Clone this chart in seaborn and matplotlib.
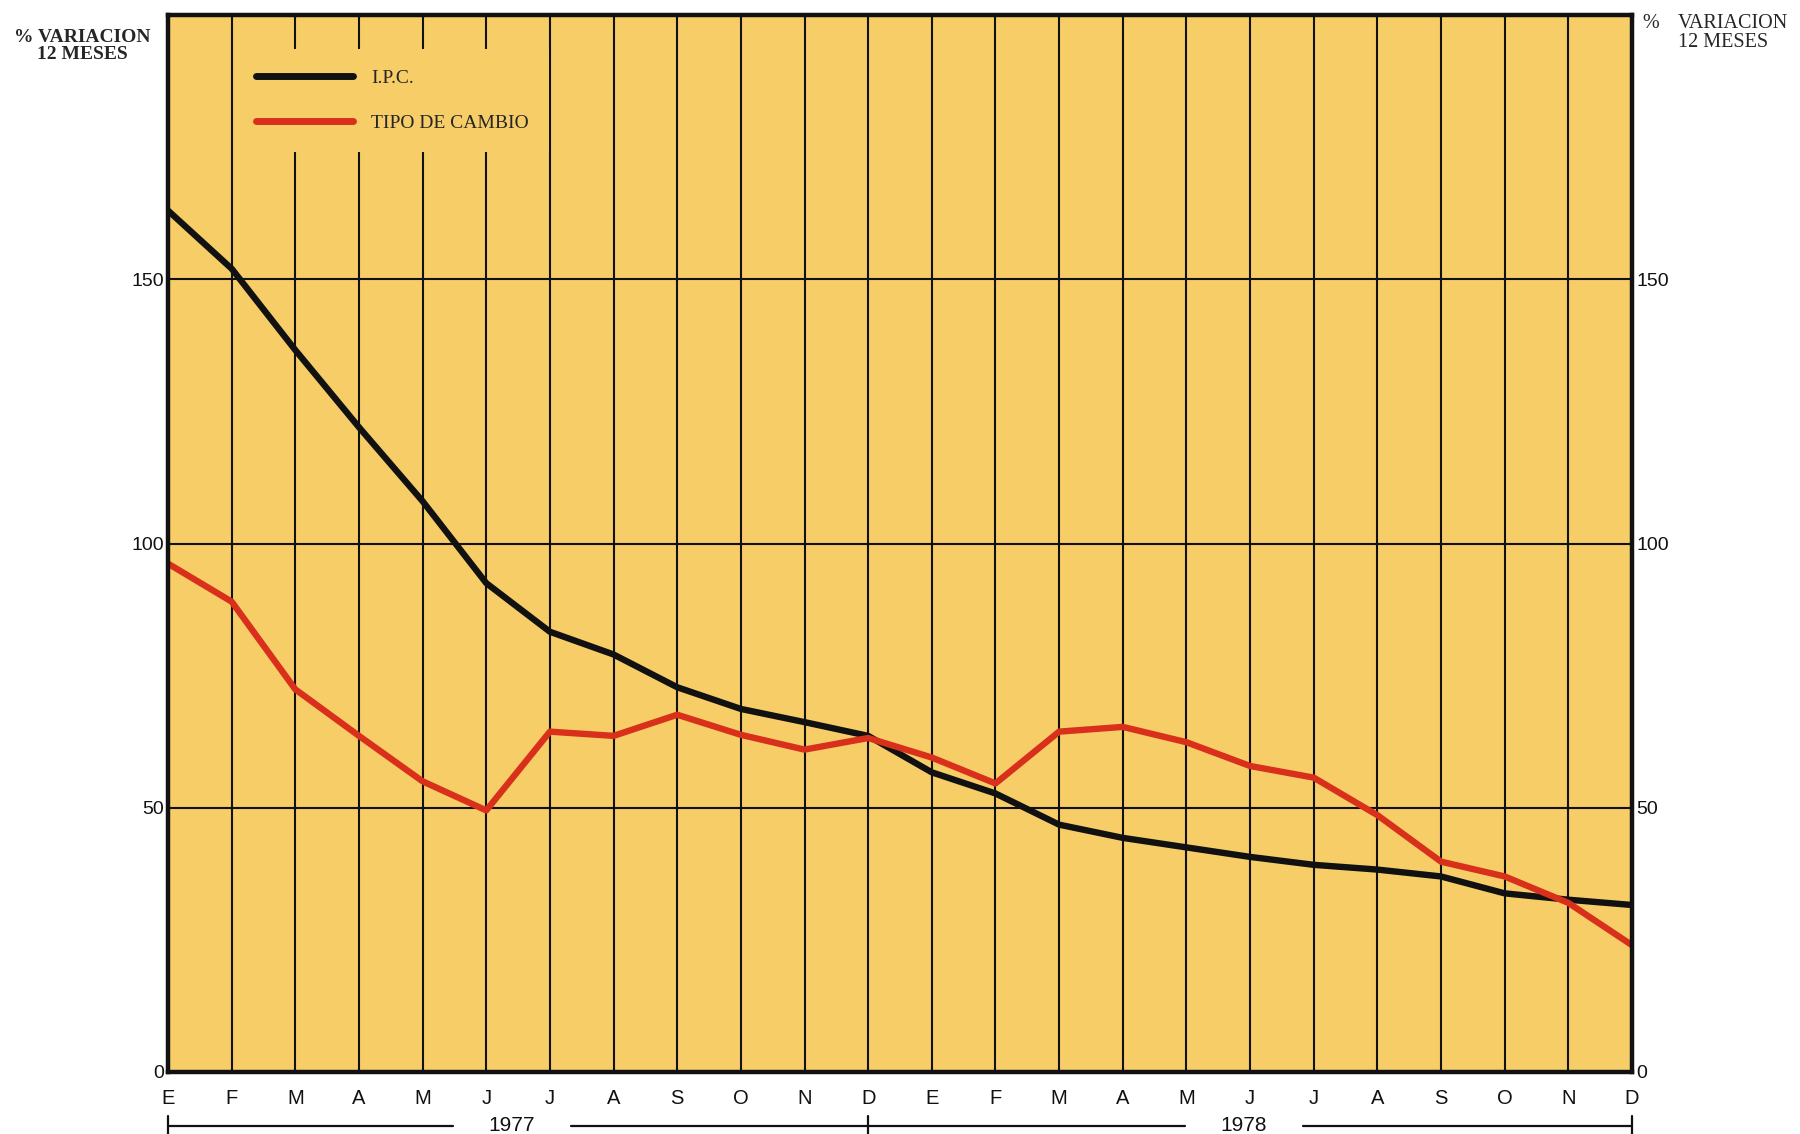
import numpy as np
import pandas as pd
import matplotlib
matplotlib.use("Agg")
import matplotlib.pyplot as plt
import matplotlib.transforms as mtransforms
from matplotlib import font_manager
import seaborn as sns

# Data (% variacion 12 meses), Jan 1977 - Dec 1978
meses = ["E", "F", "M", "A", "M", "J", "J", "A", "S", "O", "N", "D",
         "E", "F", "M", "A", "M", "J", "J", "A", "S", "O", "N", "D"]
ipc = [163.0, 152.0, 136.6, 122.0, 108.0, 92.5, 83.3, 79.0, 72.8, 68.7, 66.2, 63.6,
       56.7, 52.7, 46.8, 44.3, 42.5, 40.7, 39.2, 38.3, 37.0, 33.8, 32.6, 31.6]
tipo_cambio = [96.2, 89.0, 72.4, 63.6, 55.0, 49.5, 64.4, 63.6, 67.6, 63.8, 61.0, 63.2,
               59.5, 54.6, 64.4, 65.3, 62.4, 57.9, 55.7, 48.6, 39.8, 37.0, 32.0, 24.0]
series = ["I.P.C.", "TIPO DE CAMBIO"]
colores = {"I.P.C.": "#111111", "TIPO DE CAMBIO": "#D9301B"}
y_ticks = [0, 50, 100, 150]
years = ["1977", "1978"]
year_edges = [0, 11, 23]        # month index where each year bar starts / ends
year_label_x = [5.4, 16.9]      # centre of the year label on the bar

BG = "#F7CD68"

df = pd.DataFrame({
    "mes": np.tile(np.arange(len(meses)), 2),
    "valor": ipc + tipo_cambio,
    "serie": np.repeat(series, len(meses)),
})

sns.set_theme(style="white")
available = {f.name for f in font_manager.fontManager.ttflist}
sans = "Liberation Sans" if "Liberation Sans" in available else "DejaVu Sans"
narrow = "Liberation Sans Narrow" if "Liberation Sans Narrow" in available else sans
serif = "Liberation Serif" if "Liberation Serif" in available else "DejaVu Serif"
plt.rcParams["font.family"] = [sans, "DejaVu Sans"]

fig = plt.figure(figsize=(18, 11.34), dpi=100)
fig.patch.set_facecolor("white")
ax = fig.add_axes([168 / 1800, 1 - 1072 / 1134, 1464 / 1800, 1057 / 1134])
ax.set_facecolor(BG)

sns.lineplot(data=df, x="mes", y="valor", hue="serie", hue_order=series,
             palette=colores, linewidth=4.6, sort=False, ax=ax)

ax.set_xlim(0, len(meses) - 1)
ax.set_ylim(0, 200)
ax.set_xticks(np.arange(len(meses)))
ax.set_xticklabels(meses, fontsize=14.5, family=narrow)
ax.set_yticks(y_ticks)
ax.set_yticklabels([str(v) for v in y_ticks], fontsize=14)
ax.tick_params(axis="x", length=0, pad=12, colors="#111111")
ax.tick_params(axis="y", length=0, pad=3, colors="#111111",
               labelright=True, labelleft=True)
ax.set_xlabel("")
ax.set_ylabel("")

ax.set_axisbelow(True)
ax.grid(True, color="#111111", linewidth=1.5)
for sp in ax.spines.values():
    sp.set_visible(True)
    sp.set_color("#111111")
    sp.set_linewidth(3.2)

# legend sitting on the paper colour, hiding the grid behind it
leg = ax.legend(loc="upper left", bbox_to_anchor=(0.046, 0.968), borderaxespad=0,
                frameon=True, facecolor=BG, edgecolor=BG, framealpha=1,
                fancybox=False, handlelength=5.0, handletextpad=0.95,
                borderpad=1.05, labelspacing=1.4,
                prop={"family": serif, "size": 14})
leg.get_frame().set_linewidth(0)
for h in leg.get_lines():
    h.set_linewidth(5)
    h.set_solid_capstyle("round")

# axis titles on both sides
fig.text(82 / 1800, 1 - 46 / 1134, "% VARIACION\n12 MESES", ha="center", va="center",
         family=serif, fontweight="bold", fontsize=14, linespacing=0.95)
fig.text(1642 / 1800, 1 - 24 / 1134, "%", ha="left", va="center",
         family=serif, fontsize=14.5)
fig.text(1678 / 1800, 1 - 33 / 1134, "VARIACION\n12 MESES", ha="left", va="center",
         family=serif, fontsize=14.5, linespacing=0.95)

# year bars under the months
trans = mtransforms.blended_transform_factory(ax.transData, ax.transAxes)
y_bar = -0.051
for i, yr in enumerate(years):
    x0, x1 = year_edges[i], year_edges[i + 1]
    xc = year_label_x[i]
    gap = 0.93
    ax.plot([x0, xc - gap], [y_bar, y_bar], color="#111111", lw=1.6,
            transform=trans, clip_on=False)
    ax.plot([xc + gap, x1], [y_bar, y_bar], color="#111111", lw=1.6,
            transform=trans, clip_on=False)
    ax.text(xc, y_bar, yr, transform=trans, ha="center", va="center",
            fontsize=15, family=narrow, color="#111111")
for xe in year_edges:
    ax.plot([xe, xe], [y_bar - 0.009, y_bar + 0.009], color="#111111", lw=1.6,
            transform=trans, clip_on=False)

fig.savefig("out.png", dpi=100, facecolor="white")
